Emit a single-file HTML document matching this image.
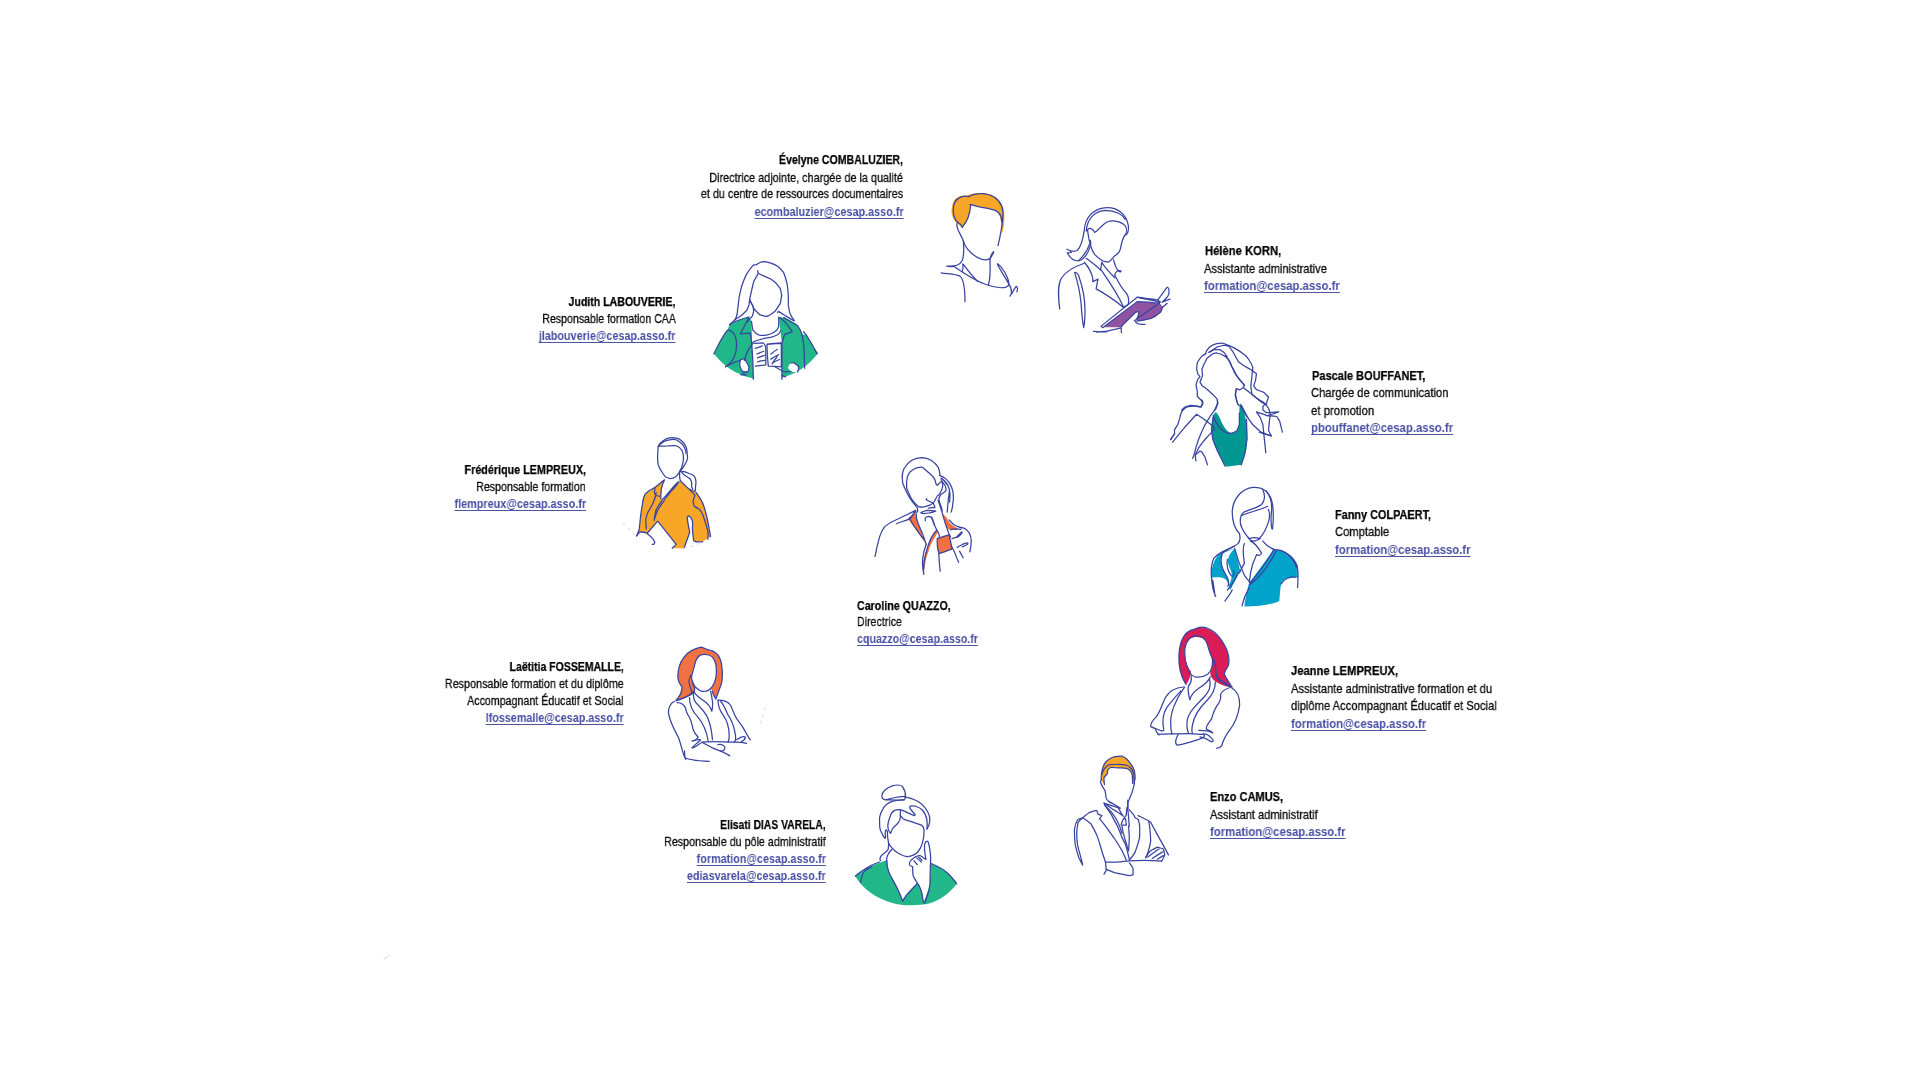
<!DOCTYPE html>
<html><head><meta charset="utf-8"><style>
html,body{margin:0;padding:0;background:#fff;width:1920px;height:1080px;overflow:hidden;position:relative}
.t{position:absolute;white-space:nowrap;will-change:transform;font-family:"Liberation Sans",sans-serif;line-height:16px}
.n{font-size:13.4px;font-weight:700;color:#000;-webkit-text-stroke:0.25px #000}
.r{font-size:13.4px;font-weight:400;color:#0a0a0a;-webkit-text-stroke:0.3px #0a0a0a}
.e{font-size:12.7px;font-weight:700;color:#474ea3;text-decoration:underline;text-decoration-thickness:1px;text-underline-offset:1.6px;text-decoration-color:#4d54a3;text-decoration-skip-ink:none}
svg.f{position:absolute;overflow:visible}
svg.f path{fill:none;stroke:#3843a0;stroke-width:1.25px;vector-effect:non-scaling-stroke;stroke-linecap:round;stroke-linejoin:round}
svg.f path.k{stroke:none}
</style></head><body>
<div class="t n" style="right:1017.20px;transform-origin:100% 0;top:152.00px;transform:scaleX(0.7901)">Évelyne COMBALUZIER,</div>
<div class="t r" style="right:1016.80px;transform-origin:100% 0;top:169.80px;transform:scaleX(0.8106)">Directrice adjointe, chargée de la qualité</div>
<div class="t r" style="right:1016.80px;transform-origin:100% 0;top:186.20px;transform:scaleX(0.8089)">et du centre de ressources documentaires</div>
<div class="t e" style="right:1016.80px;transform-origin:100% 0;top:203.50px;transform:scaleX(0.8535)">ecombaluzier@cesap.asso.fr</div>
<div class="t n" style="right:1244.80px;transform-origin:100% 0;top:293.80px;transform:scaleX(0.7895)">Judith LABOUVERIE,</div>
<div class="t r" style="right:1244.20px;transform-origin:100% 0;top:310.60px;transform:scaleX(0.7913)">Responsable formation CAA</div>
<div class="t e" style="right:1244.60px;transform-origin:100% 0;top:327.80px;transform:scaleX(0.8516)">jlabouverie@cesap.asso.fr</div>
<div class="t n" style="left:1204.60px;transform-origin:0 0;top:243.10px;transform:scaleX(0.8394)">Hélène KORN,</div>
<div class="t r" style="left:1204.20px;transform-origin:0 0;top:260.90px;transform:scaleX(0.8291)">Assistante administrative</div>
<div class="t e" style="left:1204.20px;transform-origin:0 0;top:278.20px;transform:scaleX(0.8935)">formation@cesap.asso.fr</div>
<div class="t n" style="left:1311.70px;transform-origin:0 0;top:367.90px;transform:scaleX(0.8230)">Pascale BOUFFANET,</div>
<div class="t r" style="left:1310.80px;transform-origin:0 0;top:385.10px;transform:scaleX(0.8396)">Chargée de communication</div>
<div class="t r" style="left:1310.80px;transform-origin:0 0;top:402.70px;transform:scaleX(0.8490)">et promotion</div>
<div class="t e" style="left:1310.80px;transform-origin:0 0;top:420.20px;transform:scaleX(0.8936)">pbouffanet@cesap.asso.fr</div>
<div class="t n" style="left:1334.80px;transform-origin:0 0;top:506.75px;transform:scaleX(0.8132)">Fanny COLPAERT,</div>
<div class="t r" style="left:1334.80px;transform-origin:0 0;top:524.00px;transform:scaleX(0.8369)">Comptable</div>
<div class="t e" style="left:1334.50px;transform-origin:0 0;top:541.90px;transform:scaleX(0.8915)">formation@cesap.asso.fr</div>
<div class="t n" style="left:1290.90px;transform-origin:0 0;top:663.00px;transform:scaleX(0.8367)">Jeanne LEMPREUX,</div>
<div class="t r" style="left:1290.90px;transform-origin:0 0;top:680.70px;transform:scaleX(0.8339)">Assistante administrative formation et du</div>
<div class="t r" style="left:1290.90px;transform-origin:0 0;top:697.90px;transform:scaleX(0.8349)">diplôme Accompagnant Éducatif et Social</div>
<div class="t e" style="left:1290.60px;transform-origin:0 0;top:715.90px;transform:scaleX(0.8896)">formation@cesap.asso.fr</div>
<div class="t n" style="left:1209.80px;transform-origin:0 0;top:788.80px;transform:scaleX(0.8257)">Enzo CAMUS,</div>
<div class="t r" style="left:1209.80px;transform-origin:0 0;top:806.80px;transform:scaleX(0.8270)">Assistant administratif</div>
<div class="t e" style="left:1209.50px;transform-origin:0 0;top:824.00px;transform:scaleX(0.8915)">formation@cesap.asso.fr</div>
<div class="t n" style="right:1094.80px;transform-origin:100% 0;top:816.75px;transform:scaleX(0.7719)">Elisati DIAS VARELA,</div>
<div class="t r" style="right:1094.40px;transform-origin:100% 0;top:833.90px;transform:scaleX(0.8015)">Responsable du pôle administratif</div>
<div class="t e" style="right:1094.40px;transform-origin:100% 0;top:850.60px;transform:scaleX(0.8511)">formation@cesap.asso.fr</div>
<div class="t e" style="right:1094.40px;transform-origin:100% 0;top:868.00px;transform:scaleX(0.8530)">ediasvarela@cesap.asso.fr</div>
<div class="t n" style="right:1296.25px;transform-origin:100% 0;top:658.60px;transform:scaleX(0.7835)">Laëtitia FOSSEMALLE,</div>
<div class="t r" style="right:1296.10px;transform-origin:100% 0;top:676.10px;transform:scaleX(0.8069)">Responsable formation et du diplôme</div>
<div class="t r" style="right:1296.10px;transform-origin:100% 0;top:692.70px;transform:scaleX(0.7959)">Accompagnant Éducatif et Social</div>
<div class="t e" style="right:1296.10px;transform-origin:100% 0;top:710.30px;transform:scaleX(0.8481)">lfossemalle@cesap.asso.fr</div>
<div class="t n" style="right:1334.20px;transform-origin:100% 0;top:461.75px;transform:scaleX(0.8050)">Frédérique LEMPREUX,</div>
<div class="t r" style="right:1334.60px;transform-origin:100% 0;top:479.10px;transform:scaleX(0.7958)">Responsable formation</div>
<div class="t e" style="right:1334.20px;transform-origin:100% 0;top:496.10px;transform:scaleX(0.8539)">flempreux@cesap.asso.fr</div>
<div class="t n" style="left:857.10px;transform-origin:0 0;top:597.65px;transform:scaleX(0.7970)">Caroline QUAZZO,</div>
<div class="t r" style="left:857.10px;transform-origin:0 0;top:614.20px;transform:scaleX(0.7940)">Directrice</div>
<div class="t e" style="left:857.10px;transform-origin:0 0;top:630.90px;transform:scaleX(0.8437)">cquazzo@cesap.asso.fr</div>
<svg class="f" style="left:930px;top:185px;width:100px;height:120px" viewBox="0 0 900 1080"><path class="k" style="fill:#f8a627" d="M 200,190 C 205,120 260,92 330,95 C 380,75 470,62 540,85 C 610,110 660,170 668,250 C 672,320 665,400 648,440 L 640,330 C 630,260 610,235 560,215 C 490,200 420,195 365,178 C 362,250 345,320 290,380 C 250,360 215,320 200,280 C 190,250 192,220 200,190 Z"/><path d="M 345,105 C 400,75 500,62 580,110 C 640,150 665,220 655,300 C 648,380 630,470 612,545"/><path d="M 360,175 C 440,205 540,205 600,235 C 640,260 645,300 645,330"/><path d="M 345,105 C 290,90 225,120 212,190 C 200,260 225,320 250,335 C 270,345 285,365 290,380"/><path d="M 365,178 C 362,250 345,320 290,380"/><path d="M 250,335 C 235,345 240,390 270,440 C 285,470 295,490 300,500"/><path d="M 300,500 C 320,580 400,650 470,670 C 510,680 540,670 555,640 C 565,620 578,600 572,600 C 560,610 545,640 540,670"/><path d="M 300,500 C 305,560 305,640 290,680 C 270,720 240,730 150,730 C 170,735 190,735 215,732"/><path d="M 540,670 C 540,740 550,820 525,900"/><path d="M 220,735 C 300,790 420,870 520,900 C 600,925 680,935 705,905 C 720,880 690,800 640,740 C 615,710 600,700 610,720 C 640,780 690,850 720,910 C 740,950 735,980 720,1000"/><path d="M 100,790 C 160,800 230,800 270,820 C 305,850 315,920 315,1050"/><path d="M 295,710 C 300,740 300,760 290,780 M 300,715 C 340,770 390,830 430,870"/><path d="M 735,980 C 750,950 765,925 775,912 C 790,918 788,945 782,962"/></svg>
<svg class="f" style="left:1050px;top:200px;width:130px;height:140px" viewBox="0 0 1003 1080"><path class="k" style="fill:#8f53a2" d="M 411,981 L 673,784 C 720,785 790,790 823,797 L 844,797 C 855,805 862,812 866,823 C 866,840 860,855 853,866 C 830,885 805,903 780,913 C 740,925 700,932 669,934 L 669,917 C 675,905 680,890 682,874 C 680,866 677,862 673,861 C 662,866 652,874 643,883 C 630,895 620,905 609,917 C 595,932 580,948 566,960 L 549,981 Z"/><path d="M 265,230 C 270,140 330,70 420,60 C 520,50 590,110 605,200 C 610,240 595,270 580,270"/><path d="M 280,240 C 285,150 340,85 430,80 C 500,80 560,110 580,150"/><path d="M 290,230 C 300,210 330,220 345,250 C 370,240 400,190 440,170 C 490,150 560,170 580,200 C 600,230 590,260 575,275"/><path d="M 575,275 C 560,300 550,340 545,370 C 540,400 520,420 500,430 C 480,450 470,470 450,480 C 420,480 380,460 345,420 C 320,390 310,340 300,300 C 295,270 290,240 290,230"/><path d="M 265,230 C 255,300 240,360 210,390 C 180,405 150,390 130,380 C 150,385 160,395 165,405 C 140,410 130,405 135,410 C 150,440 180,470 220,470 C 260,460 290,420 310,360 C 315,340 315,320 310,310"/><path d="M 225,462 C 260,430 290,390 305,340"/><path d="M 490,460 C 500,500 510,530 530,550 C 545,560 555,550 540,545 C 520,540 505,560 500,575"/><path d="M 280,450 C 320,480 360,510 390,540 L 400,480 C 420,520 460,560 500,600"/><path d="M 265,480 C 300,520 320,560 330,600 L 330,630 L 370,610 L 356,686 C 420,720 500,775 566,827"/><path d="M 395,540 C 450,620 520,720 566,823"/><path d="M 500,580 C 520,620 550,680 590,720 C 610,750 609,780 604,806 L 566,827"/><path d="M 260,490 C 200,510 130,540 90,600 C 60,650 60,720 75,840"/><path d="M 190,560 C 200,555 210,565 220,580 C 245,650 270,750 270,850 C 270,920 265,960 260,985 C 255,960 245,880 240,800 C 230,700 210,620 190,560 Z"/><path d="M 394,973 L 673,750 M 411,981 L 673,784 M 394,973 L 405,985 L 411,981"/><path d="M 673,750 C 700,752 720,756 737,758 C 770,762 800,766 831,771 C 840,776 848,782 853,788 M 690,756 C 740,764 800,772 845,790 M 673,784 C 720,785 790,790 844,797"/><path d="M 844,797 L 669,917 M 866,823 C 866,840 860,855 853,866 C 830,885 805,903 780,913 C 740,925 700,932 669,934"/><path d="M 566,960 C 590,935 610,915 643,883 C 655,870 665,862 673,861 C 680,862 686,866 686,870 C 684,880 682,885 681,891 C 678,905 672,915 669,917 C 662,925 656,928 651,930 C 660,945 670,953 682,956 C 700,960 715,960 733,960 M 566,960 L 549,981"/><path d="M 831,771 C 855,740 880,705 904,673 C 912,676 917,680 917,686 C 918,700 918,712 917,724 C 912,740 905,750 896,758 C 885,770 875,780 866,788 M 866,788 C 885,780 905,772 926,765 M 904,797 C 890,810 878,820 866,831"/><path d="M 360,1020 C 390,1017 415,1014 437,1011 C 480,1003 520,993 549,986 M 549,986 L 551,1024 M 335,1013 C 380,1016 410,1018 437,1018"/></svg>
<svg class="f" style="left:705px;top:255px;width:120px;height:130px" viewBox="0 0 997 1080"><defs><clipPath id="c2"><circle cx="505" cy="498" r="537"/></clipPath></defs><g clip-path="url(#c2)"><path class="k" style="fill:#21b788" d="M 40,900 L 74,822 L 122,725 L 187,625 L 203,579 L 278,542 L 365,515 L 386,552 L 397,875 L 402,1060 L 0,1060 Z"/><path class="k" style="fill:#21b788" d="M 612,515 L 655,520 L 768,585 L 806,660 L 838,660 L 903,768 L 960,840 L 1000,1060 L 639,1060 L 639,735 Z"/><path class="k" style="fill:#fff" d="M 295,870 C 310,865 325,862 332,865 C 345,890 358,910 365,929 C 365,950 360,965 354,972 C 335,972 320,970 311,967 C 300,950 292,935 289,918 C 288,900 290,880 295,870 Z"/><path class="k" style="fill:#fff" d="M 715,897 C 725,895 735,895 742,897 C 760,908 772,918 779,929 C 778,950 774,962 769,972 C 750,972 730,970 715,967 C 700,955 690,945 690,935 C 695,915 705,903 715,897 Z"/></g><path d="M 205,579 C 220,565 236,552 249,540 C 257,525 262,510 266,496 C 272,450 277,403 283,357 C 289,323 296,290 305,258 C 316,226 328,194 343,163 C 360,135 378,108 399,86 C 408,82 417,81 427,80 C 436,74 445,68 454,64 C 469,58 484,55 499,55 C 518,58 536,63 554,69 C 573,77 591,86 609,97 C 626,112 641,129 654,147 C 665,176 674,205 681,235 C 687,266 690,298 692,330 C 693,358 693,385 692,413 C 695,435 699,457 704,479 C 710,494 717,509 726,523 C 731,531 737,538 742,546"/><path d="M 244,540 C 264,527 285,514 305,501 C 320,486 335,472 349,457 C 355,442 361,427 366,413 C 368,398 369,383 371,368 C 376,342 382,316 388,291 C 393,269 398,246 404,224 C 411,209 418,194 427,180 C 432,170 438,161 443,152 C 440,145 436,138 438,130"/><path d="M 443,152 C 454,158 465,164 476,169 C 498,178 520,187 543,197 C 558,207 573,218 587,230 C 600,246 613,263 626,280 C 630,298 634,317 637,335 C 634,357 630,379 626,402 C 612,424 597,446 582,468 C 569,478 556,487 543,496 C 532,501 521,507 510,512 C 491,507 473,501 454,496 C 439,481 425,466 410,451 C 399,429 388,407 377,385 C 375,379 373,374 371,368"/><path d="M 377,385 C 384,398 392,411 399,424 C 401,439 403,453 404,468 C 401,481 397,494 393,507 C 386,516 378,525 371,535 C 364,542 356,549 349,557 M 604,479 C 606,475 607,472 609,468 C 618,473 628,479 637,485 C 652,494 666,503 681,512 C 700,523 718,534 737,546"/><path d="M 386,552 C 390,580 394,605 397,622 C 410,640 430,658 451,665 C 470,668 490,668 510,665 C 540,660 565,650 580,638 C 598,625 608,610 612,595 C 613,570 613,545 612,525"/><path d="M 203,579 C 230,560 255,550 278,542 C 310,530 340,520 365,515 L 295,655 L 375,649 L 386,714 C 390,770 394,820 397,875 C 399,930 401,980 402,1032"/><path d="M 612,515 C 630,525 645,538 661,552 C 685,580 705,610 725,638 L 661,660 C 650,690 643,715 639,735 C 639,830 639,930 639,1032"/><path d="M 655,520 C 690,540 730,560 768,585 C 785,610 798,635 806,660 C 815,700 820,735 822,768 C 825,830 827,890 828,940 M 817,638 C 825,645 832,652 838,660 C 860,695 885,735 903,768 C 915,790 925,808 930,822"/><path d="M 74,822 C 90,790 105,757 122,725 C 145,685 165,650 187,625 C 200,622 210,627 219,633 C 235,645 245,660 252,676 C 260,700 263,720 262,741 C 262,765 260,785 257,800 C 250,825 243,845 235,865 C 215,895 195,915 171,929"/><path d="M 171,929 C 200,912 225,900 250,890 C 265,885 280,880 295,875 M 300,995 C 315,985 330,978 345,970"/><path d="M 408,719 C 430,710 450,702 472,698 C 500,692 530,686 553,682 C 575,676 592,668 607,660 C 618,652 624,640 628,628 M 408,719 C 400,725 395,732 392,741 C 378,760 365,780 354,800 C 342,825 334,850 327,875"/><path d="M 408,735 C 430,732 460,730 483,730 C 495,740 502,752 505,768 C 505,820 505,870 505,913 C 480,918 450,922 418,924 M 418,775 C 440,770 460,762 476,755 M 432,822 C 450,815 470,808 488,800 M 437,855 C 455,848 475,840 495,833 M 437,888 C 455,882 475,877 495,875"/><path d="M 515,741 C 555,736 595,732 634,730 L 634,929 M 515,741 C 515,800 520,870 526,924 C 560,926 600,928 634,929 M 520,742 C 560,738 600,735 634,735 M 547,823 C 565,808 580,795 600,785 M 547,865 C 570,850 590,838 612,828 M 557,898 C 575,888 595,878 618,868 M 560,905 C 570,880 585,860 600,845"/><path d="M 295,870 C 310,865 325,862 332,865 C 345,890 358,910 365,929 C 365,950 360,965 354,972 C 335,972 320,970 311,967 C 300,950 292,935 289,918 C 288,900 290,880 295,870 M 300,995 C 320,1000 335,1000 345,995"/><path d="M 580,929 C 610,945 635,960 661,972 C 680,970 700,968 715,967 M 715,897 C 725,895 735,895 742,897 C 760,908 772,918 779,929 C 778,950 774,962 769,972 M 639,1000 C 650,1005 660,1010 670,1012"/></svg>
<svg class="f" style="left:1163px;top:336px;width:130px;height:140px" viewBox="0 0 1003 1080"><path class="k" style="fill:#009891" d="M 409,586 C 420,600 430,615 439,634 C 450,660 462,685 474,704 C 487,722 500,738 514,744 C 522,748 530,749 539,749 C 552,745 565,737 574,724 C 582,708 587,690 589,669 C 590,635 589,600 589,569 C 590,552 591,535 594,519 C 600,525 607,533 614,544 C 625,575 633,610 639,644 C 645,677 648,710 649,744 C 648,785 647,828 644,869 C 638,895 631,920 624,944 C 617,962 610,978 604,994 C 565,1000 527,1005 489,1009 C 472,982 455,955 439,929 C 420,892 403,855 389,819 C 380,790 375,762 374,734 C 374,708 376,683 379,659 C 382,640 385,624 389,609 C 395,600 402,592 409,586 Z"/><path d="M 330,136 C 331,128 333,121 335,116 C 345,100 355,90 365,81 C 382,70 398,62 415,58 C 432,56 450,55 465,56 C 483,62 500,69 515,76 C 532,84 549,92 565,101 C 588,114 610,129 632,146 C 645,158 655,171 664,185 C 676,203 686,222 693,242 C 690,266 688,290 686,314 C 683,338 680,362 678,385 C 680,406 682,428 686,450 C 700,462 714,474 728,485 C 745,495 762,504 778,514 C 790,528 802,542 814,557 C 819,571 824,585 828,600 C 826,619 824,638 821,657 C 819,681 816,704 814,728 C 821,742 828,757 836,771 C 819,766 802,761 786,757 C 772,752 757,747 743,742"/><path d="M 330,136 C 318,144 306,152 295,161 C 283,175 273,190 265,206 C 262,222 260,239 260,256 C 263,270 266,283 270,296 C 275,301 280,306 285,311 C 278,321 271,331 265,341 C 261,354 258,367 255,381 C 258,398 262,414 265,431 C 265,443 265,454 265,466 C 275,476 285,486 295,496 C 299,503 302,509 305,516 C 302,526 299,536 295,546 C 268,543 242,540 215,536 C 198,540 182,545 165,551 C 155,559 150,565 145,571"/><path d="M 299,494 C 305,500 308,508 308,519 C 305,530 300,540 290,548 C 273,545 256,542 239,539 C 218,541 198,545 179,549 C 165,560 152,572 144,584 C 137,600 132,617 129,634 C 124,650 119,667 114,684 C 105,697 97,710 89,724 L 89,754 C 79,769 69,784 59,799"/><path d="M 355,126 C 375,113 395,99 415,86 C 435,80 455,75 475,71 C 487,74 499,77 510,81 C 522,98 534,114 545,131 C 557,153 569,174 580,196 C 594,207 608,217 621,228 C 643,240 664,252 686,264 C 697,273 709,283 721,292 C 719,309 716,325 714,342 C 709,356 704,371 700,385 C 707,395 714,404 721,414 C 740,421 759,428 778,435 C 790,447 802,459 814,471 C 809,485 804,499 800,514 C 790,523 780,533 771,542 L 771,571 C 780,578 790,585 800,592 C 831,590 862,588 893,585 C 874,592 855,600 836,607 C 826,609 816,611 807,614"/><path d="M 355,126 C 368,119 381,112 395,106 C 410,106 425,106 440,106 C 452,114 464,122 475,131 C 482,141 489,151 495,161"/><path d="M 295,331 C 299,323 302,314 305,306 C 303,289 302,272 300,256 C 305,244 310,233 315,221 C 324,204 332,187 340,171 C 355,159 370,147 385,136 C 395,134 405,132 415,131 C 427,134 439,137 450,141 C 462,148 474,154 485,161 C 492,168 499,174 505,181 C 510,191 515,201 520,211 C 525,223 530,234 535,246 C 544,263 552,279 560,296 C 570,309 580,322 590,336 C 600,348 610,359 620,371 C 622,376 624,381 625,386 C 622,391 619,396 615,401 C 607,406 598,411 590,416 C 582,413 574,409 565,406 C 563,423 561,439 560,456 C 563,473 567,489 570,506 C 572,513 575,520 578,528"/><path d="M 480,151 C 492,166 504,181 515,196 C 520,208 525,219 530,231 C 537,244 544,257 550,271 C 558,286 567,301 575,316 C 587,329 598,343 610,356 C 617,364 624,372 630,381"/><path d="M 295,331 C 292,339 288,347 285,356 C 290,364 295,372 300,381 C 313,391 327,401 340,411 C 357,426 373,441 390,456 C 400,468 410,479 420,491 L 420,521 C 413,538 407,554 400,571"/><path d="M 564,414 C 562,428 559,442 557,457 C 564,481 571,504 578,528 C 585,533 592,537 600,542 C 614,566 628,590 643,614 C 659,638 676,661 693,685 C 714,704 736,723 757,742 C 783,752 809,761 836,771 M 621,400 C 642,416 664,433 686,450 C 712,471 738,492 764,514 C 776,518 788,523 800,528"/><path d="M 721,585 C 731,599 740,614 750,628 C 757,647 764,666 771,685 C 773,709 776,733 778,757 C 783,805 788,852 793,900 M 721,585 C 747,595 774,604 800,614 C 826,616 852,618 878,621 C 885,633 893,645 900,657 C 907,686 914,714 921,742"/><path d="M 389,614 C 394,629 399,644 404,659 C 415,676 427,692 439,709 C 455,722 472,736 489,749 C 502,750 515,750 529,751 C 542,745 555,739 569,734 C 575,717 582,700 589,684 C 589,654 589,624 589,594 M 604,534 C 620,565 637,597 654,629"/><path d="M 389,614 C 384,649 379,684 374,719 C 377,744 380,769 384,794 C 395,824 407,854 419,884 C 439,924 459,964 479,1004 M 644,644 C 646,694 647,744 649,794 C 642,836 636,877 629,919 C 620,944 612,969 604,994"/><path d="M 59,799 C 69,784 79,769 89,754 M 74,819 C 104,782 134,745 164,709 C 195,674 227,639 259,604 C 279,617 299,630 319,644 C 341,660 362,677 384,694 C 389,701 394,707 399,714 C 389,726 379,737 369,749 C 352,767 336,785 319,804 C 304,824 289,844 274,864 C 266,882 257,900 249,919 C 250,934 252,949 254,964"/><path d="M 419,494 C 421,502 422,510 424,519 C 419,532 414,545 409,559 C 394,579 379,599 364,619 C 349,644 334,669 319,694 C 307,720 295,747 284,774 C 275,797 267,820 259,844 C 252,869 245,894 239,919 C 235,927 232,935 229,944"/><path d="M 254,914 C 264,906 274,897 284,889 C 289,890 294,892 299,894 C 307,907 315,920 324,934 C 330,954 337,974 344,994"/></svg>
<svg class="f" style="left:1198px;top:480px;width:110px;height:132px" viewBox="0 0 900 1080"><path class="k" style="fill:#01a3ca" d="M 420,840 L 620,570 C 700,570 780,620 800,700 L 820,800 C 760,790 700,800 680,850 C 670,900 670,950 665,990 C 600,1020 500,1035 380,1035 C 385,980 400,900 420,840 Z"/><path class="k" style="fill:#01a3ca" d="M 110,790 C 110,700 140,620 200,590 C 240,575 280,565 300,560 L 345,740 C 320,790 290,850 265,900 C 250,850 240,810 200,800 C 170,795 140,795 110,800 Z"/><path class="k" style="fill:#fff" d="M 200,600 C 180,650 190,720 230,780 C 250,810 255,840 245,870 C 265,840 280,800 275,760 C 265,720 240,690 245,650 C 250,620 270,590 300,560 Z"/><path d="M 340,440 C 300,400 280,330 280,260 C 285,150 360,70 450,60 C 530,55 580,100 600,160 C 620,220 620,300 610,400"/><path d="M 530,80 C 550,120 550,170 520,200 C 480,230 420,240 380,260 C 350,280 340,320 350,370"/><path d="M 560,90 C 590,130 610,200 600,270 C 595,330 600,380 605,400 M 360,290 C 420,260 500,250 570,215"/><path d="M 350,370 C 370,420 400,460 420,480 C 450,470 480,470 500,480 C 530,450 560,400 580,330 C 590,290 585,260 575,240"/><path d="M 410,470 C 420,490 440,500 460,500 C 480,495 500,490 510,480 M 430,500 C 470,520 500,560 520,600 C 510,620 490,620 480,610 C 460,650 440,700 430,760 C 425,800 420,830 420,840"/><path d="M 380,520 C 360,560 370,620 380,680 C 370,700 350,730 340,760"/><path d="M 340,440 C 350,480 340,520 300,540 C 260,560 220,580 200,600 C 180,650 190,720 230,780 C 250,810 255,840 245,870"/><path d="M 240,650 C 230,700 250,760 270,780 C 290,800 300,770 290,740"/><path d="M 300,560 C 320,640 350,720 380,780 C 400,810 420,830 430,840 C 480,780 560,680 620,570 M 420,860 C 500,800 580,700 640,580 M 420,880 C 390,930 370,980 360,1030"/><path d="M 530,500 C 560,540 600,560 630,570 C 700,570 780,620 810,700 C 820,740 820,800 815,880 M 640,570 C 720,580 790,640 820,760"/><path d="M 110,800 C 115,860 125,920 145,950 M 120,820 C 130,870 135,920 140,950 M 680,850 C 700,810 750,790 800,795"/><path d="M 240,900 C 270,870 300,820 330,760 M 220,990 C 250,950 270,920 280,900"/><path d="M 300,540 C 240,570 170,590 130,640 C 110,680 105,740 110,800"/></svg>
<svg class="f" style="left:1140px;top:618px;width:110px;height:138px" viewBox="0 0 861 1080"><path class="k" style="fill:#da1d56" d="M 360,520 C 320,460 300,380 305,290 C 310,200 340,120 400,95 C 430,85 450,75 480,72 C 540,75 600,120 640,180 C 680,240 700,300 695,360 C 690,390 660,410 660,440 C 680,480 700,510 720,540 C 680,545 620,520 580,490 C 560,470 550,450 550,430 C 560,390 570,330 555,300 C 540,260 530,200 510,170 C 480,145 430,140 390,160 C 360,180 350,220 350,270 C 350,330 370,380 400,420 C 395,460 380,500 360,520 Z"/><path d="M 360,520 C 320,460 300,380 305,290 C 310,200 340,120 400,95 C 440,85 460,70 490,72 C 560,80 620,140 660,210 C 690,260 700,320 695,360 C 690,390 660,410 660,440 C 680,480 700,510 720,540"/><path d="M 350,270 C 350,200 380,150 430,140 C 480,135 510,160 525,200 C 540,250 550,290 570,320 C 575,360 560,410 530,440 C 500,460 460,465 430,460 C 400,450 380,420 370,390 C 355,350 350,310 350,270"/><path d="M 575,320 C 600,370 590,420 600,460 C 620,500 660,520 710,540 M 590,460 C 630,480 670,510 700,530"/><path d="M 400,450 C 405,480 400,510 380,530 C 370,560 380,600 390,640 C 400,600 430,570 460,550 C 510,520 540,490 550,460"/><path d="M 350,540 C 330,570 300,610 280,660 C 260,700 240,760 240,820 C 240,860 245,890 250,910"/><path d="M 545,480 C 560,540 540,580 500,620 C 440,680 380,740 370,800 C 365,840 370,880 380,900"/><path d="M 590,500 C 590,560 560,610 520,650 C 460,710 420,780 410,840 C 405,870 405,890 410,900"/><path d="M 340,540 C 280,545 230,570 200,620 C 170,680 160,730 130,770 C 100,800 80,830 85,850 C 100,860 140,870 160,880 C 180,890 190,880 185,870 C 175,820 180,750 210,700 C 250,650 290,600 320,570"/><path d="M 720,540 C 680,550 640,570 630,600 C 630,620 640,630 620,660 C 590,700 570,750 560,790 C 540,820 510,850 520,870 C 540,880 560,890 570,900"/><path d="M 720,550 C 760,570 780,610 780,680 C 770,760 740,830 700,880 C 670,920 650,960 640,1000 C 630,1010 610,1020 600,1020"/><path d="M 140,910 C 200,910 300,905 380,905 C 430,905 460,910 480,910 C 520,900 540,920 560,940 C 580,960 575,975 550,965 C 530,950 500,935 470,930"/><path d="M 300,910 C 280,940 270,980 290,995 C 340,990 400,970 460,950 C 500,935 520,920 490,910 M 460,880 C 500,880 530,880 560,895 M 120,870 C 130,890 140,910 150,915"/></svg>
<svg class="f" style="left:1065px;top:748px;width:110px;height:136px" viewBox="0 0 874 1080"><path class="k" style="fill:#f8a627" d="M 287,254 C 288,230 289,210 291,193 C 296,168 303,145 313,126 C 325,108 338,95 353,87 C 367,78 382,72 397,69 C 417,66 436,64 455,65 C 468,70 480,77 490,87 C 503,100 515,115 525,131 C 535,143 542,157 547,170 C 552,185 555,200 556,215 C 557,228 557,241 556,254 L 551,281 L 538,281 C 537,258 536,235 534,215 C 530,200 526,190 521,184 C 512,174 502,167 490,162 C 475,159 460,157 446,157 C 433,157 421,157 411,157 C 395,155 380,153 366,153 C 355,158 346,166 340,175 C 338,185 338,195 335,206 C 325,215 315,225 309,237 C 310,255 311,272 313,290 L 287,254 Z"/><path d="M 287,254 C 288,230 289,210 291,193 C 296,168 303,145 313,126 C 325,108 338,95 353,87 C 367,78 382,72 397,69 C 417,66 436,64 455,65 C 468,70 480,77 490,87 C 503,100 515,115 525,131 C 535,143 542,157 547,170 C 552,185 555,200 556,215 C 557,228 557,241 556,254"/><path d="M 291,215 C 296,198 302,184 309,170 C 320,156 332,144 344,135 C 358,131 373,130 388,131 C 402,130 415,129 428,129 C 446,129 464,130 481,133 C 494,138 506,145 516,153 C 525,161 532,170 538,179 C 542,190 545,202 547,215 C 549,235 550,258 552,281"/><path d="M 313,290 C 311,272 310,255 309,237 C 315,225 325,215 335,206 C 338,195 338,185 340,175 C 346,166 355,158 366,153 C 380,153 395,155 411,157 C 421,157 433,157 446,157 C 460,157 475,159 490,162 C 502,167 512,174 521,184 C 526,190 530,200 534,215 C 536,235 537,258 538,281"/><path d="M 287,254 C 284,260 282,266 283,272 C 286,283 290,293 296,303 C 303,315 310,327 318,338 C 322,357 324,376 327,396 C 331,406 337,415 344,422 C 357,430 370,437 384,444 C 399,453 413,462 428,471 M 552,281 C 549,293 546,305 543,316 C 539,331 534,346 530,360 C 523,378 516,396 508,413 C 504,420 501,428 499,435 C 499,450 499,465 499,479"/><path d="M 310,437 C 325,447 338,457 352,466 C 370,480 388,492 405,501 C 418,508 430,518 440,525 C 447,530 452,535 452,531 M 310,437 C 335,445 365,455 395,465 C 410,469 425,473 440,478 L 422,472 C 430,490 440,505 452,525 C 458,532 462,538 463,543"/><path d="M 310,437 C 312,443 314,448 316,454 C 330,470 345,482 357,496 C 375,515 390,537 405,560 C 418,585 430,610 440,637 C 444,650 448,665 452,678"/><path d="M 316,454 C 335,480 352,505 369,531 C 385,560 400,590 416,619 C 430,650 442,680 452,710 C 462,730 472,748 481,766 C 492,805 502,845 511,884"/><path d="M 499,413 L 499,472 C 502,520 506,570 511,619 M 493,472 C 490,492 488,512 487,531 C 480,545 470,555 463,566 C 455,580 449,598 446,613 C 460,613 474,613 487,613 C 486,595 484,578 481,560 C 475,562 468,564 463,566"/><path d="M 452,619 C 456,640 460,660 463,678 C 477,725 490,772 505,819 C 508,780 510,745 511,707 C 509,678 507,648 505,619"/><path d="M 511,490 C 523,505 535,518 546,531 C 550,540 553,548 558,554 C 565,560 573,563 581,566 C 587,583 591,600 593,619 C 594,650 594,680 593,707 C 585,745 572,787 558,825 C 545,850 528,872 511,890"/><path d="M 581,537 C 597,545 613,552 628,560 C 640,566 652,572 664,578 C 670,582 676,586 681,590 C 697,620 713,650 728,678 C 760,735 792,792 822,849 M 664,578 C 670,600 673,625 675,649 C 678,680 680,710 681,737 C 677,765 671,790 664,813 C 657,835 649,855 640,872"/><path d="M 140,554 C 158,540 175,525 193,513 C 212,505 232,498 252,496 L 263,525 L 293,537 L 275,560 C 295,585 315,610 334,637 C 353,665 373,692 393,719 C 413,750 433,782 452,813 C 463,838 476,864 487,890"/><path d="M 140,554 C 125,558 110,563 99,572 C 85,595 78,620 75,649 C 74,690 76,728 81,766 C 88,802 98,838 110,872 C 120,892 130,912 140,931 M 140,554 C 127,565 115,577 104,590 C 97,618 94,648 93,678 C 93,708 95,738 99,766 C 105,796 113,826 122,855 C 128,878 134,902 140,925"/><path d="M 140,554 C 163,568 185,584 205,601 C 222,630 238,660 252,690 C 263,720 273,750 281,778 C 290,810 300,842 310,872 C 314,884 318,896 322,907"/><path d="M 322,907 C 350,907 378,907 405,907 C 440,903 475,899 511,896 C 550,894 589,893 628,893 C 675,894 722,896 769,899"/><path d="M 322,907 C 324,930 326,952 328,972 C 322,982 316,992 310,1002 M 334,966 C 353,975 373,983 393,990 C 432,998 471,1006 511,1013 C 520,1012 530,1010 540,1008 C 541,990 541,972 540,955 C 531,940 521,926 511,913"/><path d="M 640,872 C 651,854 663,836 675,819 C 695,808 714,797 734,787 C 750,791 766,796 781,802 C 786,817 790,833 793,849 C 787,865 779,881 769,896 M 658,866 C 687,844 716,822 746,802 M 693,878 C 720,860 748,842 775,825 M 734,884 C 750,874 766,864 781,855"/></svg>
<svg class="f" style="left:848px;top:776px;width:118px;height:136px" viewBox="0 0 937 1080"><path class="k" style="fill:#21b788" d="M 58,796 C 120,746 200,700 312,667 C 313,700 318,760 344,804 C 370,850 410,920 434,995 C 450,960 500,900 550,852 C 562,860 580,900 590,940 L 598,1005 C 620,960 640,900 651,852 L 656,693 C 700,712 760,740 790,770 C 820,800 850,830 862,857 C 800,940 700,1010 600,1020 C 500,1030 430,1030 360,1010 C 220,970 120,900 58,796 Z"/><path d="M 298,190 C 280,185 266,172 269,155 C 272,130 300,95 351,78 C 390,68 420,70 433,85 C 450,110 458,140 457,167 C 455,182 450,190 440,190 C 400,192 330,190 298,190 Z M 298,190 C 340,175 400,165 451,161"/><path d="M 451,167 C 490,170 527,185 560,205 C 598,230 630,270 645,314 C 655,345 648,373 641,395 L 627,420"/><path d="M 445,190 C 410,190 375,195 351,202 C 310,215 285,240 270,275 C 252,310 248,340 251,361 C 250,400 255,430 263,443 C 272,465 285,485 295,496 L 298,478 C 295,460 292,440 300,430 C 305,425 310,430 313,443"/><path d="M 416,267 C 400,268 385,268 369,273 C 350,285 338,305 333,326 C 322,355 316,380 316,396 C 316,415 320,430 330,445 L 339,455 C 345,440 350,420 357,414 C 370,395 390,385 398,373 C 412,355 416,340 416,326 Z"/><path d="M 416,267 C 450,280 490,300 527,314 C 535,312 535,308 533,306 C 518,290 500,270 492,255 C 488,245 490,240 500,238 C 515,236 530,237 539,240 C 560,248 578,256 590,270 C 610,292 622,320 627,350 C 630,375 630,400 627,420"/><path d="M 416,314 C 425,325 430,335 439,340 C 460,350 480,356 504,362 C 535,372 565,382 586,392 C 598,400 603,415 604,432 C 604,460 600,490 598,502 C 592,535 585,555 575,573 C 560,600 545,615 527,624 C 505,635 485,640 469,640 C 445,638 428,630 410,620 C 385,605 365,590 351,573 C 335,555 327,545 322,532 C 316,505 312,470 313,443"/><path d="M 322,532 C 322,550 323,570 318,585 C 308,600 295,610 280,620 C 265,630 255,640 254,655 C 253,665 256,670 259,672"/><path d="M 349,582 C 335,597 325,610 317,625 C 310,640 306,655 307,667 C 308,710 318,760 344,804 C 370,850 410,920 434,995 C 450,960 490,915 520,885 C 535,870 545,858 550,852 C 560,860 575,890 587,931 C 592,960 596,985 598,1005"/><path d="M 550,852 C 540,830 525,810 518,794 C 512,770 515,740 513,720 C 505,718 490,712 487,704 C 485,690 490,680 500,670 C 510,660 520,652 530,645 C 545,635 560,630 575,633 C 590,640 605,655 619,662 C 615,640 610,610 608,588 C 606,560 607,540 614,529 C 620,518 630,516 635,520 C 642,540 648,565 651,588 C 655,620 657,650 656,667 C 655,700 652,760 651,852 C 648,890 640,920 635,931 C 628,960 618,990 608,1011"/><path d="M 524,672 C 533,685 542,695 550,704 M 545,651 C 560,660 572,672 582,683 M 562,645 C 572,652 582,662 588,670"/><path d="M 58,796 C 80,775 100,760 122,746 C 160,720 210,695 249,683 M 100,847 C 105,820 110,790 122,767 C 140,745 165,730 190,720"/><path d="M 656,693 C 700,712 760,740 790,770 C 820,800 850,830 862,857"/></svg>
<svg class="f" style="left:656px;top:638px;width:118px;height:134px" viewBox="0 0 951 1080"><path class="k" style="fill:#f27142" d="M 161,502 C 180,480 195,460 200,443 C 207,425 212,410 210,395 C 200,380 190,368 186,356 C 178,340 175,325 176,307 C 176,280 180,255 186,235 C 195,205 205,182 220,162 C 240,135 260,115 283,104 C 310,90 340,78 365,74 C 380,78 393,84 404,89 C 420,95 437,99 453,104 C 475,115 490,125 501,138 C 513,160 522,180 526,201 C 531,230 534,255 535,283 C 535,310 533,335 530,356 C 525,378 518,396 511,414 C 505,432 498,448 492,463 C 488,475 485,485 482,492 C 470,475 460,450 453,429 C 450,420 446,412 443,405 C 455,390 466,372 472,356 C 480,335 485,310 487,283 C 487,255 485,232 482,210 C 475,185 465,165 453,152 C 440,140 422,134 404,133 C 385,132 370,134 356,138 C 342,148 332,160 326,172 C 318,192 312,213 307,235 C 298,257 290,278 283,298 C 285,318 288,338 292,356 C 298,375 305,390 312,405 C 311,418 309,428 307,439 C 295,448 285,456 273,463 C 252,475 230,485 210,492 C 190,497 175,500 161,502 Z"/><path d="M 161,502 C 180,480 195,460 200,443 C 207,425 212,410 210,395 C 200,380 190,368 186,356 C 178,340 175,325 176,307 C 176,280 180,255 186,235 C 195,205 205,182 220,162 C 240,135 260,115 283,104 C 310,90 340,78 365,74 C 380,78 393,84 404,89 C 420,95 437,99 453,104 C 475,115 490,125 501,138 C 513,160 522,180 526,201 C 531,230 534,255 535,283 C 535,310 533,335 530,356 C 525,378 518,396 511,414 C 505,432 498,448 492,463 C 488,475 485,485 482,492 M 452,429 C 460,450 470,475 482,492"/><path d="M 288,303 C 295,280 300,260 307,235 C 312,213 318,192 326,172 C 335,155 345,145 356,138 C 372,133 388,132 404,133 C 425,136 442,143 453,152 C 467,168 476,188 482,210 C 486,235 487,260 487,283 C 485,310 480,335 472,356 C 462,378 452,395 443,405 C 432,418 418,426 404,429 C 392,430 378,430 365,429 C 348,420 330,408 317,395 C 303,375 293,352 288,332 C 286,320 286,310 288,303"/><path d="M 283,298 C 270,320 262,345 268,370 C 275,395 285,420 290,440 C 282,455 265,465 240,475 C 215,485 190,495 165,505 M 307,439 C 285,455 255,470 230,480 C 205,490 185,498 170,505 M 292,356 C 298,375 305,390 312,405 C 311,418 309,428 307,439"/><path d="M 300,430 C 300,470 300,500 320,520 C 360,560 400,600 420,650 C 440,700 450,760 455,820"/><path d="M 440,430 C 450,470 460,520 455,560 L 450,590 C 440,560 420,530 390,510 C 360,490 330,470 310,440"/><path d="M 270,480 C 270,540 300,600 340,640 C 380,690 410,760 420,830"/><path d="M 500,500 C 500,540 510,580 540,620 C 570,660 590,720 590,790 C 590,810 585,830 580,840 M 520,510 C 550,540 560,580 580,620 C 610,660 630,720 640,780 C 645,810 640,830 630,840"/><path d="M 150,510 C 120,520 100,560 100,600 C 110,680 150,740 180,800 C 200,850 210,910 230,960 C 250,980 330,990 430,995"/><path d="M 170,520 C 210,520 230,540 240,570 C 240,590 250,610 270,640 C 290,680 290,700 300,740 C 310,770 330,790 340,800 C 330,820 300,830 290,830"/><path d="M 500,500 C 540,500 580,510 600,540 C 620,580 630,620 650,650 C 690,700 720,750 740,790 C 750,810 760,820 760,820"/><path d="M 370,840 C 450,830 550,840 640,840 C 680,840 710,845 730,850 M 300,830 C 320,820 340,815 360,820 C 330,850 300,870 290,885 C 310,890 340,860 370,840 M 370,840 C 420,870 480,900 540,920 C 570,935 590,945 595,950"/><path d="M 500,860 C 530,850 560,870 555,890 C 545,910 530,915 520,910 M 650,820 C 680,800 710,790 720,800 C 720,815 700,830 690,835"/><path d="M 230,910 C 230,940 235,970 240,980"/><path style="stroke:#e6e6f3;stroke-dasharray:3 4" d="M 880,560 C 870,600 855,650 840,700"/></svg>
<svg class="f" style="left:612px;top:430px;width:110px;height:132px" viewBox="0 0 900 1080"><path class="k" style="fill:#f8a627" d="M 202,867 C 210,845 218,825 223,809 C 228,775 231,740 234,703 C 240,660 247,612 255,570 C 262,550 268,535 276,523 C 300,505 330,485 358,464 C 380,445 400,428 430,408 C 420,425 416,435 414,444 C 410,460 406,470 404,480 C 401,510 399,535 399,562 L 414,567 L 424,581 C 405,607 388,633 371,660 C 362,690 355,715 352,725 L 374,745 L 288,845 C 270,838 250,833 228,835 Z"/><path class="k" style="fill:#f8a627" d="M 558,418 C 568,428 578,436 589,444 C 600,455 610,466 620,475 C 632,484 644,490 656,495 C 665,498 675,500 682,500 C 705,530 725,565 742,597 C 755,630 765,665 774,703 C 782,740 790,775 795,809 C 800,830 804,850 806,872 C 785,885 765,900 742,915 C 725,915 705,915 689,915 C 680,912 672,908 668,904 C 664,870 660,840 658,809 C 660,790 660,765 658,745 C 652,725 642,710 631,703 C 622,705 617,710 615,719 C 620,760 628,800 636,835 C 622,880 605,925 589,968 L 493,968 L 525,936 L 374,745 L 350,728 C 355,700 362,680 371,660 C 388,633 405,607 424,581 C 430,575 432,568 435,562 C 450,545 460,532 471,516 C 485,500 500,482 517,464 C 528,450 538,436 548,423 Z"/><path d="M 378,135 C 385,120 392,110 399,104 C 415,90 430,80 445,73 C 462,66 480,63 497,63 C 515,64 532,67 548,73 C 565,82 578,95 589,109 C 598,122 605,136 610,150 C 613,165 615,178 615,191 C 617,205 618,220 618,233 C 616,242 613,250 610,258 C 603,270 596,282 589,294 C 580,310 570,324 558,336"/><path d="M 383,125 C 398,112 415,98 435,89 C 460,80 485,75 510,76 C 528,80 540,86 548,94 C 560,103 570,111 579,119 C 588,132 595,146 600,161 C 603,172 605,182 605,191"/><path d="M 394,132 C 420,131 440,130 461,130 C 480,128 500,127 517,127 C 530,131 540,135 548,140 C 560,150 568,160 574,171 C 580,185 583,198 584,212 C 585,225 585,237 584,248 C 580,270 575,290 569,310 C 562,325 555,340 548,351 C 538,365 528,378 517,387 C 505,393 490,397 476,397 C 460,393 447,388 435,382 C 423,368 413,352 404,336 C 393,320 385,302 378,284 C 374,265 373,243 373,222 C 374,195 376,163 378,135 Z"/><path d="M 558,336 C 570,338 580,340 589,341 C 603,345 617,350 631,356 C 643,361 655,366 667,372 C 675,380 680,388 682,397 C 685,407 687,418 687,428 C 686,445 684,462 682,480 L 682,495 M 564,341 C 572,350 580,358 589,367 C 605,378 620,387 636,397 C 643,405 648,416 651,428 C 652,440 652,450 651,459 C 653,468 657,476 661,485"/><path d="M 553,336 C 553,350 553,363 553,377 C 554,390 556,402 558,413 C 568,423 578,434 589,444 C 600,455 610,466 620,475 C 632,484 644,490 656,495 C 665,498 675,500 682,500"/><path d="M 538,428 C 528,438 518,448 507,459 C 490,480 473,500 456,521 C 442,537 428,552 414,567 C 410,573 406,580 403,586 C 388,607 374,628 361,650 C 354,680 347,710 345,740 M 548,423 C 538,436 528,450 517,464 C 500,482 485,500 471,516 C 460,532 450,545 435,562 C 430,568 427,575 424,581 C 405,607 388,633 371,660 C 360,690 350,715 345,740"/><path d="M 430,408 C 420,414 412,420 404,428 C 390,440 373,452 358,464 C 340,477 323,487 306,495 C 293,505 281,515 270,526 C 264,540 259,556 255,572 M 430,408 C 424,420 418,432 414,444 C 410,456 406,468 404,480 C 401,505 400,535 399,562"/><path d="M 353,475 C 349,488 347,500 347,511 C 350,520 353,530 358,536 C 370,540 382,541 394,542"/><path d="M 255,570 C 248,612 240,660 234,703 C 230,740 227,775 223,809 C 217,828 210,848 202,867 M 281,809 C 278,782 276,756 276,729 C 282,710 287,693 292,676 C 305,655 317,633 329,613 C 340,590 348,567 355,544 C 358,534 360,523 361,512"/><path d="M 202,867 C 210,855 218,845 228,835 C 240,833 252,834 265,835 C 275,840 284,845 292,851 C 307,863 321,876 334,888 C 341,898 347,909 350,920 C 347,928 343,933 340,936 L 329,936 M 228,835 C 250,833 270,838 288,845"/><path d="M 288,845 L 374,745 L 525,936 L 493,968"/><path d="M 589,968 C 605,925 622,880 636,835 C 628,800 620,760 615,719 C 617,710 622,705 631,703 C 642,710 652,725 658,745 C 660,765 660,790 658,809 C 660,840 664,870 668,904 C 672,908 680,912 689,915 C 705,915 725,915 742,915"/><path d="M 636,491 C 650,503 665,518 679,533 C 672,550 665,568 663,586 C 666,600 669,612 673,623 C 688,633 702,642 716,650 C 726,662 735,677 742,692 C 758,735 772,780 785,830 C 786,850 786,870 785,894 M 689,512 C 710,540 728,568 742,597 C 755,630 765,665 774,703 C 782,740 790,775 795,809 C 800,830 804,850 806,872"/><path style="stroke:#e6e6f3;stroke-dasharray:3 4" d="M 589,968 C 620,962 655,955 689,941 C 710,932 728,924 742,915"/><path style="stroke:#e6e6f3;stroke-dasharray:3 4" d="M 90,760 C 130,800 160,830 190,860"/></svg>
<svg class="f" style="left:866px;top:452px;width:116px;height:130px" viewBox="0 0 964 1080"><path class="k" style="fill:#f27142" d="M 303,577 L 364,553 L 407,504 C 412,520 416,535 420,547 C 430,585 442,620 457,658 C 470,695 485,735 500,768 C 480,740 460,710 440,680 C 420,650 400,625 383,602 C 372,588 363,575 358,565 Z"/><path class="k" style="fill:#f27142" d="M 475,1014 C 476,970 478,930 481,891 C 490,850 502,810 518,768 C 532,730 550,690 567,664 C 575,655 580,652 586,651 L 598,664 C 585,690 570,715 555,738 C 540,765 528,795 518,830 C 505,860 498,890 493,922 C 488,950 483,985 475,1014 Z"/><path class="k" style="fill:#f27142" d="M 592,719 C 625,708 660,697 690,688 C 700,725 708,765 715,805 C 680,818 645,832 610,842 C 600,830 595,810 594,790 C 592,765 591,740 592,719 Z"/><path class="k" style="fill:#f27142" d="M 635,510 C 645,520 658,530 666,541 C 675,555 683,570 690,584 C 702,595 715,605 727,614 C 738,620 748,626 758,633 L 752,645 C 730,646 710,646 690,645 C 683,640 677,633 672,627 C 665,612 659,598 654,584 C 646,560 640,535 635,510 Z"/><path d="M 301,199 C 303,175 308,155 315,139 C 335,105 355,85 380,69 C 410,52 435,47 463,46 C 495,47 520,56 541,69 C 568,88 588,105 601,129 C 610,150 614,170 615,194"/><path d="M 301,199 C 301,225 303,245 306,259 C 315,285 324,305 333,323 C 345,350 360,375 375,397 C 390,420 410,445 426,462 C 428,475 430,487 430,499"/><path d="M 338,300 C 336,265 337,235 343,208 C 350,188 358,173 370,162 C 385,148 405,136 426,129 C 440,126 452,124 463,125 L 472,129 C 490,145 510,165 537,185 C 552,198 565,213 573,231 L 583,268 L 592,277 C 598,270 604,264 610,259 C 616,253 622,248 629,245 C 634,255 637,265 638,277 C 637,287 635,295 633,305 C 629,315 625,323 620,332 C 615,342 610,350 606,356 C 601,360 596,362 592,365 C 585,377 579,390 573,402 L 564,416 C 555,425 546,432 537,439 C 515,448 493,454 472,457 C 458,458 446,456 435,453 C 415,438 395,415 380,392 C 365,365 350,335 338,300"/><path d="M 624,231 C 632,240 638,249 643,259 C 650,265 654,270 657,277 C 662,290 665,302 666,314 C 662,325 655,332 647,337 C 638,343 628,349 620,356 C 614,365 609,374 606,383 C 606,395 608,405 610,416 C 615,430 620,442 624,453 C 628,465 631,477 633,489"/><path d="M 610,194 C 630,200 645,208 657,217 C 672,230 684,243 694,259 C 707,280 716,300 721,323 C 725,345 727,368 726,392 C 724,415 720,440 717,462 C 714,478 711,490 707,499 M 624,217 C 640,228 656,243 670,259 C 682,278 690,295 694,314 C 692,340 689,365 684,392 C 681,430 678,465 675,499 M 633,222 C 650,240 666,258 680,277 C 690,300 696,323 698,346 C 698,370 696,395 694,416"/><path d="M 504,388 C 502,391 500,394 500,397 C 520,407 540,416 560,425 C 565,437 570,450 573,462 C 567,462 561,462 555,462 C 542,464 530,465 518,466 M 456,504 C 472,496 488,489 506,485 C 530,485 555,487 580,491 C 565,497 548,502 530,505 C 515,507 503,508 493,510 C 482,512 470,512 460,508 M 493,571 C 492,562 492,554 493,547 C 500,540 509,536 518,534 C 530,535 540,540 549,547 C 555,565 561,585 567,602 C 574,617 580,632 586,645 C 592,655 598,665 604,676 C 608,688 610,698 610,707"/><path d="M 543,541 C 550,560 560,580 567,602 M 598,399 C 610,430 620,460 629,491 C 640,530 653,575 666,614 C 675,640 683,663 690,682 C 695,690 700,697 703,705"/><path d="M 75,867 C 85,815 97,760 112,707 C 124,672 138,643 155,620 C 185,595 220,575 260,559 C 310,536 360,510 413,485 M 253,596 C 285,585 320,570 352,559 C 375,540 395,520 413,485 M 413,485 C 416,505 419,530 420,553 C 432,595 450,635 469,676 C 480,705 490,735 500,768 M 407,497 C 395,515 380,538 364,559 C 380,585 400,615 420,645 C 440,675 460,700 481,725"/><path d="M 500,768 C 492,790 486,810 481,830 C 475,860 470,890 469,922 C 470,955 474,985 481,1014 M 586,651 C 570,670 555,690 540,715 C 530,740 520,765 512,790 C 500,830 490,870 483,910 C 480,950 478,985 478,1014"/><path d="M 592,719 C 625,708 660,697 690,688 C 700,725 708,765 715,805 C 680,818 645,832 610,842 C 600,830 595,810 594,790 C 592,765 591,740 592,719 M 604,842 C 607,870 609,895 610,922 C 612,945 614,968 617,990"/><path d="M 690,565 C 702,578 715,590 727,602 C 740,610 752,616 764,620 C 780,626 797,630 814,633 C 830,640 845,655 857,670 C 868,690 873,712 875,737 C 874,770 870,800 863,830 M 703,645 C 720,642 735,640 752,639 C 765,640 777,641 789,642"/><path d="M 715,719 C 727,715 740,711 752,707 C 765,695 778,683 789,670 C 792,665 795,664 798,664 C 800,668 799,672 796,676 C 785,690 772,700 758,710 M 758,793 C 772,785 786,776 801,768 C 815,762 830,758 844,756 C 848,758 848,762 845,766 C 830,775 815,782 801,788 M 709,781 C 720,800 730,820 740,842 C 748,865 758,890 770,916 M 777,824 C 787,842 797,860 807,879"/></svg>
<svg class="f" style="left:380px;top:950px;width:12px;height:12px" viewBox="0 0 12 12"><path style="stroke:#e4e2f4;stroke-width:1.5px" d="M 4,9 C 6,8.5 7.5,7.5 8.5,5.5"/></svg>
</body></html>
